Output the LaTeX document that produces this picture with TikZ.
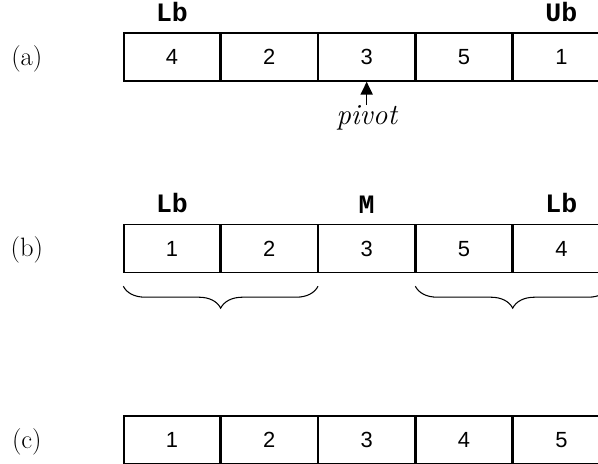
\documentclass[tikz,border=0pt]{standalone}
\usepackage{fontspec}
\newfontfamily\cellfont{Liberation Sans}
\newfontfamily\boundfont{Liberation Mono}
\usepackage{tikz}
\usetikzlibrary{positioning}
\usetikzlibrary{arrows.meta, decorations.pathreplacing}

\tikzset{
  cell/.style={draw,line width=1pt,rectangle,minimum width=2.54cm,minimum height=1.27cm,inner sep=0pt,font=\cellfont\fontsize{16.5}{19}\selectfont},
  bound/.style={font=\boundfont\bfseries\fontsize{20}{22}\selectfont,inner sep=0pt},
  rowlabel/.style={font=\fontsize{20}{23}\selectfont,inner sep=0pt},
  part/.style={decorate,line width=0.8pt,decoration={brace,mirror,amplitude=0.58cm}}
}

\begin{document}
\begin{tikzpicture}[node distance=0cm]
\useasboundingbox (0,0) rectangle (15.82,12.25);

% row (a)
\node[rowlabel] (la) at (0.71,10.70) {(a)};
\node[cell] (a1) at (4.55,10.74) {4};
\node[cell,right=of a1] (a2) {2};
\node[cell,right=of a2] (a3) {3};
\node[cell,right=of a3] (a4) {5};
\node[cell,right=of a4] (a5) {1};
\node[bound,above=0.28cm of a1] (lba) {Lb};
\node[bound,above=0.28cm of a5] (uba) {Ub};
\node[font=\itshape\fontsize{22}{24}\selectfont,inner sep=0pt,below=0.62cm of a3] (piv) {pivot};
\draw[line width=1pt,-{Triangle[length=0.34cm,width=0.32cm]}] (piv.north) -- (a3.south);

% row (b)
\node[rowlabel] (lb) at (0.71,5.63) {(b)};
\node[cell] (b1) at (4.55,5.67) {1};
\node[cell,right=of b1] (b2) {2};
\node[cell,right=of b2] (b3) {3};
\node[cell,right=of b3] (b4) {5};
\node[cell,right=of b4] (b5) {4};
\node[bound,above=0.28cm of b1] (lbb) {Lb};
\node[bound,above=0.28cm of b3] (mb) {M};
\node[bound,above=0.28cm of b5] (ubb) {Lb};
\draw[part] ([yshift=-0.34cm]b1.south west) -- ([yshift=-0.34cm]b2.south east);
\draw[part] ([yshift=-0.34cm]b4.south west) -- ([yshift=-0.34cm]b5.south east);

% row (c)
\node[rowlabel] (lc) at (0.71,0.57) {(c)};
\node[cell] (c1) at (4.55,0.61) {1};
\node[cell,right=of c1] (c2) {2};
\node[cell,right=of c2] (c3) {3};
\node[cell,right=of c3] (c4) {4};
\node[cell,right=of c4] (c5) {5};

\end{tikzpicture}
\end{document}
